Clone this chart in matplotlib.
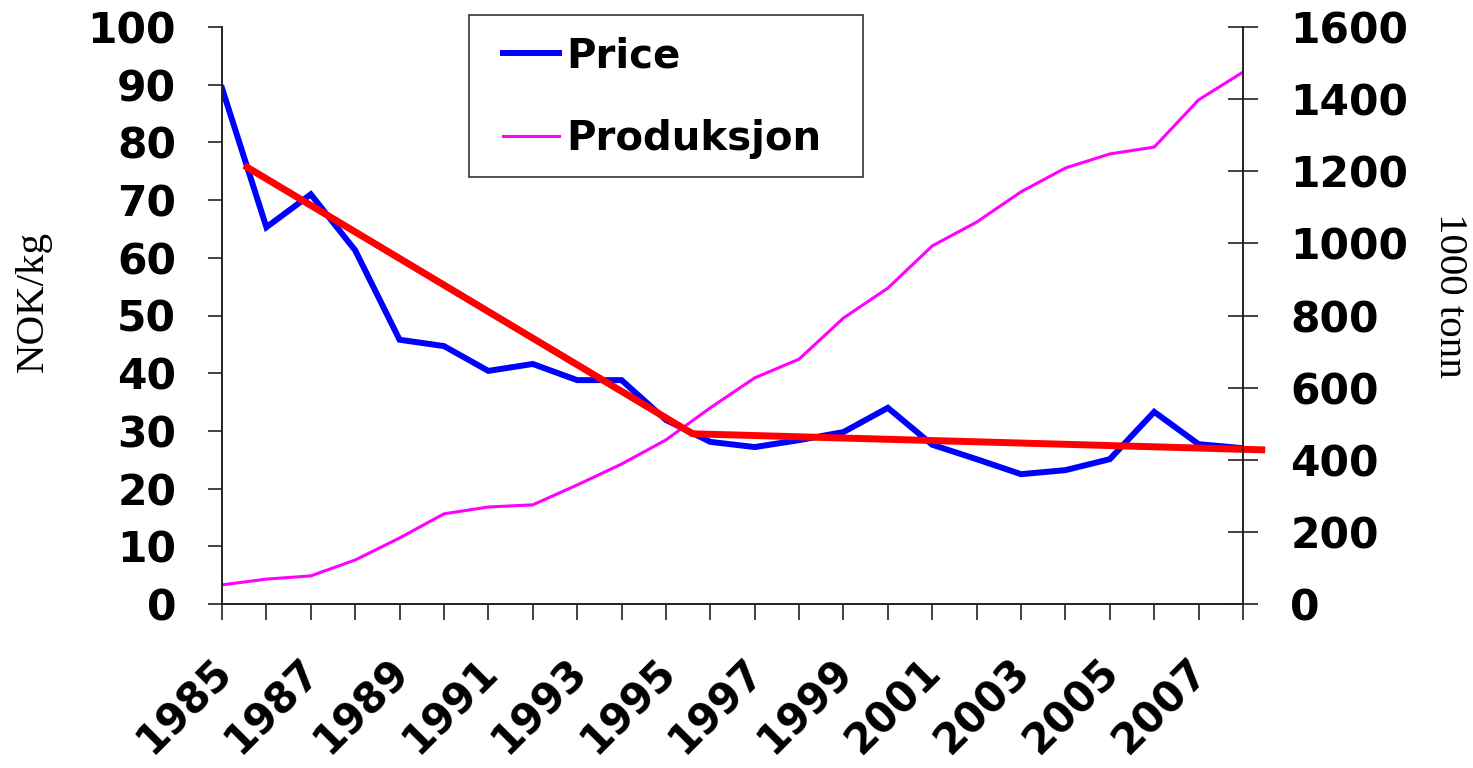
import numpy as np
import matplotlib
matplotlib.use('Agg')
import matplotlib.pyplot as plt
import matplotlib.transforms as mtransforms
from matplotlib.patches import Rectangle

# Data
years = list(range(1985, 2009))
price = [89.4, 65.3, 71.0, 61.3, 45.8, 44.7, 40.4, 41.6, 38.8, 38.8, 31.9, 28.1,
         27.2, 28.4, 29.8, 34.0, 27.6, 25.1, 22.5, 23.2, 25.1, 33.3, 27.7, 27.0]
produksjon = [53, 69, 78, 122, 183, 250, 269, 275, 330, 388, 455, 544,
              627, 679, 793, 876, 993, 1059, 1143, 1209, 1248, 1267, 1398, 1475]
trend_x = [1985.5, 1995.6, 2008.5]
trend_y = [76.0, 29.5, 26.7]
left_ticks = [0, 10, 20, 30, 40, 50, 60, 70, 80, 90, 100]
right_ticks = [0, 200, 400, 600, 800, 1000, 1200, 1400, 1600]
year_labels = [str(y) if (y - 1985) % 2 == 0 else '' for y in years]

W, H = 1473, 768
fig = plt.figure(figsize=(W / 100, H / 100), dpi=100)
ax = fig.add_axes([222 / W, 1 - 604 / H, (1243 - 222) / W, (604 - 27) / H])
ax2 = ax.twinx()
ax.set_zorder(ax2.get_zorder() + 1)
ax.patch.set_visible(False)

l1, = ax.plot(years, price, color='#0000FF', lw=4.3, label='Price', solid_joinstyle='miter')
l2, = ax2.plot(years, produksjon, color='#FF00FF', lw=2.2, label='Produksjon')
ax.plot(trend_x, trend_y, color='#FF0000', lw=5, clip_on=False, solid_capstyle='butt')

ax.set_xlim(1985, 2008)
ax.set_ylim(0, 100)
ax2.set_ylim(0, 1600)

spc = '#222222'
for a in (ax, ax2):
    a.spines['top'].set_visible(False)
    for s in ('left', 'right', 'bottom'):
        a.spines[s].set_color(spc)
        a.spines[s].set_linewidth(1.2)

ax.set_yticks(left_ticks)
ax.set_yticklabels([str(t) for t in left_ticks], fontsize=30.5, fontweight='bold')
ax.tick_params(axis='y', direction='out', length=10, width=1.2, pad=23, color=spc)
ax2.set_yticks(right_ticks)
ax2.set_yticklabels([str(t) for t in right_ticks], fontsize=30.5, fontweight='bold')
ax2.tick_params(axis='y', direction='inout', length=22, width=1.2, pad=23, color=spc)

ax.set_xticks(years)
ax.set_xticklabels(year_labels, fontsize=30, fontweight='bold', rotation=45,
                   ha='right', va='top', rotation_mode='anchor')
ax.tick_params(axis='x', direction='out', length=11.5, width=1.2, pad=22, color=spc)
shift = mtransforms.ScaledTranslation(-12 / 100, 0, fig.dpi_scale_trans)
for lab in ax.get_xticklabels():
    lab.set_transform(lab.get_transform() + shift)

ax.set_ylabel('NOK/kg', fontsize=29.5, family='Liberation Serif', va='center')
ax.yaxis.set_label_coords(-0.185, 0.525)
ax2.set_ylabel('1000 tonn', fontsize=29.5, family='Liberation Serif', rotation=-90, va='center')
ax2.yaxis.set_label_coords(1.2018, 0.5355)

fig.legend([l1, l2], ['Price', 'Produksjon'], loc='upper left',
           bbox_to_anchor=(503 / W, 1 - 36 / H), borderpad=0, borderaxespad=0,
           frameon=False, handlelength=1.39, handletextpad=0.17, labelspacing=1.07,
           prop={'size': 29, 'weight': 'bold'})
fig.patches.append(Rectangle((469 / W, 1 - 177 / H), 394 / W, 162 / H,
                             transform=fig.transFigure, fill=False, ec='#333333', lw=1.2))

fig.savefig('out.png', dpi=100)
